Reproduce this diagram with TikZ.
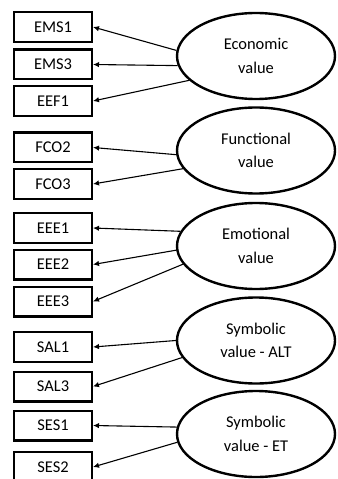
\documentclass[tikz,border=0pt]{standalone}
\usepackage{fontspec}
\setmainfont{Carlito}
\usetikzlibrary{shapes.geometric,arrows.meta}
\begin{document}
\begin{tikzpicture}[x=1bp,y=-1bp,
  indicator/.style={draw,line width=2.4bp,rectangle,minimum width=77.6bp,
    minimum height=29.6bp,inner sep=0pt,font=\fontsize{16.5}{20}\selectfont},
  construct/.style={draw,line width=2.4bp,ellipse,minimum width=158bp,
    minimum height=86bp,inner sep=0pt,align=center,
    font=\fontsize{16.5}{23.5}\selectfont},
  loading/.style={line width=1.1bp,-{Latex[length=6bp,width=5.5bp]}}]
\useasboundingbox (0,0) rectangle (337,479);

% indicator boxes
\node[indicator] (ems1) at (53,27)    {EMS1};
\node[indicator] (ems3) at (53,64.5)  {EMS3};
\node[indicator] (eef1) at (53,101)   {EEF1};
\node[indicator] (fco2) at (53,147.5) {FCO2};
\node[indicator] (fco3) at (53,184)   {FCO3};
\node[indicator] (eee1) at (53,228)   {EEE1};
\node[indicator] (eee2) at (53,264.5) {EEE2};
\node[indicator] (eee3) at (53,301.5) {EEE3};
\node[indicator] (sal1) at (53,347)   {SAL1};
\node[indicator] (sal3) at (53,386.5) {SAL3};
\node[indicator] (ses1) at (53,425.5) {SES1};
\node[indicator] (ses2) at (53,467)   {SES2};

% latent constructs
\node[construct] (econ) at (256,56)    {Economic\\value};
\node[construct] (func) at (256,150.5) {Functional\\value};
\node[construct] (emot) at (256,246)   {Emotional\\value};
\node[construct] (salt) at (256,340.5) {Symbolic\\value - ALT};
\node[construct] (set)  at (256,434)   {Symbolic\\value - ET};

% loadings
\draw[loading] (econ.176) -- (ems1.east);
\draw[loading] (econ.187) -- (ems3.east);
\draw[loading] (econ.200) -- (eef1.east);
\draw[loading] (func.183) -- (fco2.east);
\draw[loading] (func.194) -- (fco3.east);
\draw[loading] (emot.169) -- (eee1.east);
\draw[loading] (emot.183) -- (eee2.east);
\draw[loading] (emot.194) -- (eee3.east);
\draw[loading] (salt.180) -- (sal1.east);
\draw[loading] (salt.193) -- (sal3.east);
\draw[loading] (set.175)  -- (ses1.east);
\draw[loading] (set.186)  -- (ses2.east);
\end{tikzpicture}
\end{document}
